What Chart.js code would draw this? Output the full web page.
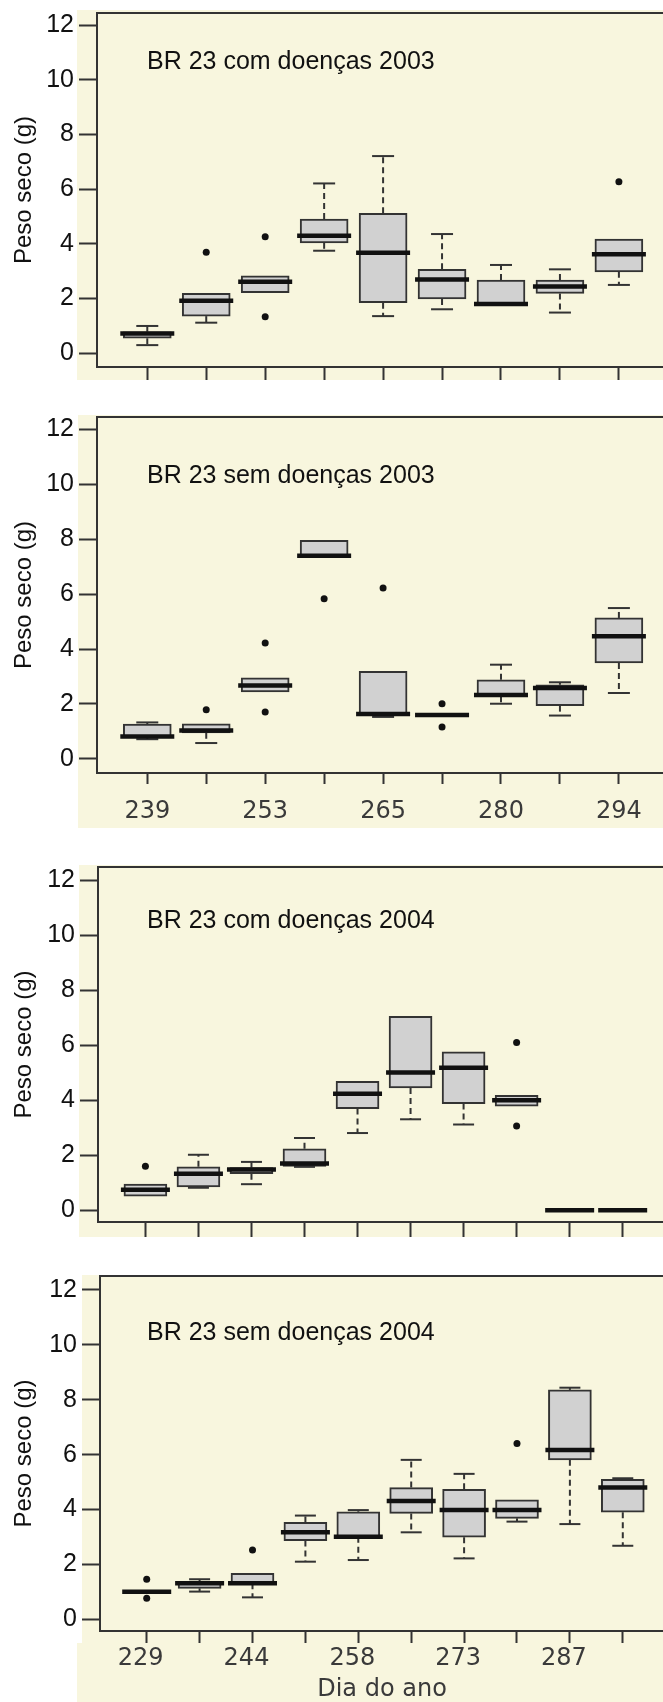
<!DOCTYPE html>
<html>
<head>
<meta charset="utf-8">
<title>Peso seco - BR 23</title>
<script src="https://cdn.jsdelivr.net/npm/chart.js@4.4.0/dist/chart.umd.min.js"></script>
<style>
  html, body { margin: 0; padding: 0; width: 663px; height: 1702px; overflow: hidden; background: #fff; }
  canvas { position: absolute; left: 0; }
</style>
</head>
<body>
<canvas id="p1" width="680" height="424" style="top:-27px"></canvas>
<canvas id="p2" width="680" height="456" style="top:377px"></canvas>
<canvas id="p3" width="680" height="425" style="top:827px"></canvas>
<canvas id="p4" width="680" height="466" style="top:1236px"></canvas>
<script>
// tick labels
const yTicks = [0, 2, 4, 6, 8, 10, 12];
const days2003 = ['239', '', '253', '', '265', '', '280', '', '294'];
const days2004 = ['229', '', '244', '', '258', '', '273', '', '287', ''];

// BR 23 com doenças 2003
const com03Lo  = [0.30, 1.12, 2.22, 3.75, 1.36, 1.61, 1.80, 1.49, 2.50];
const com03Q1  = [0.55, 1.36, 2.22, 4.04, 1.85, 1.99, 1.80, 2.19, 2.98];
const com03Med = [0.72, 1.92, 2.62, 4.30, 3.68, 2.70, 1.80, 2.44, 3.62];
const com03Q3  = [0.79, 2.19, 2.83, 4.91, 5.12, 3.07, 2.68, 2.68, 4.18];
const com03Hi  = [1.00, 2.19, 2.83, 6.21, 7.21, 4.36, 3.23, 3.07, 4.18];
const com03Out = [[], [3.69], [4.26, 1.34], [], [], [], [], [], [6.27]];

// BR 23 sem doenças 2003
const sem03Lo  = [0.72, 0.58, 2.44, 7.39, 1.53, 1.55, 2.01, 1.58, 2.40];
const sem03Q1  = [0.80, 0.95, 2.44, 7.39, 1.61, 1.55, 2.28, 1.94, 3.49];
const sem03Med = [0.82, 1.04, 2.67, 7.39, 1.64, 1.60, 2.33, 2.58, 4.46];
const sem03Q3  = [1.27, 1.28, 2.95, 7.95, 3.19, 1.65, 2.88, 2.70, 5.13];
const sem03Hi  = [1.33, 1.28, 2.95, 7.95, 3.19, 1.65, 3.43, 2.79, 5.49];
const sem03Out = [[], [1.79], [4.22, 1.71], [5.83], [6.22], [2.01, 1.16], [], [], []];

// BR 23 com doenças 2004
const com04Lo  = [0.51, 0.82, 0.95, 1.58, 2.81, 3.31, 3.12, 3.79, 0, 0];
const com04Q1  = [0.51, 0.85, 1.33, 1.60, 3.70, 4.45, 3.88, 3.79, 0, 0];
const com04Med = [0.75, 1.33, 1.48, 1.70, 4.24, 5.01, 5.18, 4.00, 0, 0];
const com04Q3  = [0.95, 1.58, 1.55, 2.24, 4.69, 7.05, 5.76, 4.18, 0, 0];
const com04Hi  = [0.95, 2.02, 1.76, 2.63, 4.69, 7.05, 5.76, 4.18, 0, 0];
const com04Out = [[1.60], [], [], [], [], [], [], [6.10, 3.07], [], []];

// BR 23 sem doenças 2004
const sem04Lo  = [0.98, 1.01, 0.80, 2.10, 2.16, 3.17, 2.22, 3.56, 3.47, 2.68];
const sem04Q1  = [0.98, 1.13, 1.31, 2.87, 3.01, 3.86, 2.99, 3.68, 5.81, 3.90];
const sem04Med = [1.00, 1.31, 1.31, 3.17, 3.01, 4.31, 3.98, 3.98, 6.17, 4.80];
const sem04Q3  = [1.02, 1.37, 1.68, 3.53, 3.92, 4.80, 4.74, 4.35, 8.36, 5.10];
const sem04Hi  = [1.02, 1.46, 1.68, 3.78, 3.98, 5.81, 5.30, 4.35, 8.44, 5.14];
const sem04Out = [[1.46, 0.77], [], [2.53], [], [], [], [], [6.41], [], []];

const PANEL_BG = '#f8f6de';
const AXIS = '#333333';
const BOX_FILL = '#d1d1d1';
const SANS = "'Liberation Sans', Arial, sans-serif";
const W = 680;

// whiskers, caps, medians, frame and panel title
const boxParts = {
  id: 'boxParts',
  beforeDraw(chart, args, o) {
    const ctx = chart.ctx;
    ctx.save();
    ctx.fillStyle = PANEL_BG;
    o.bg.forEach(r => ctx.fillRect(r[0], r[1], r[2], r[3]));
    ctx.restore();
  },
  beforeDatasetsDraw(chart, args, o) {
    const { ctx, chartArea: a } = chart;
    ctx.save();
    ctx.strokeStyle = AXIS;
    ctx.lineWidth = 2;
    ctx.strokeRect(a.left, a.top, a.right - a.left, a.bottom - a.top);
    ctx.fillStyle = '#111';
    ctx.font = '25px ' + SANS;
    ctx.textBaseline = 'alphabetic';
    ctx.fillText(o.title, 147, o.titleY);
    ctx.restore();
  },
  afterDatasetsDraw(chart, args, o) {
    const { ctx, scales: { x, y } } = chart;
    const s = o.stats;
    ctx.save();
    s.med.forEach((m, i) => {
      const px = x.getPixelForValue(i + 1);
      ctx.strokeStyle = AXIS;
      ctx.lineWidth = 2;
      [[s.q3[i], s.hi[i]], [s.q1[i], s.lo[i]]].forEach(([from, to]) => {
        if (to === from) return;
        const y0 = y.getPixelForValue(from);
        const y1 = y.getPixelForValue(to);
        ctx.setLineDash([6, 4]);
        ctx.beginPath();
        ctx.moveTo(px, y0);
        ctx.lineTo(px, y1);
        ctx.stroke();
        ctx.setLineDash([]);
        ctx.beginPath();
        ctx.moveTo(px - o.capW / 2, y1);
        ctx.lineTo(px + o.capW / 2, y1);
        ctx.stroke();
      });
      const ym = y.getPixelForValue(m);
      ctx.strokeStyle = '#111';
      ctx.lineWidth = 4.5;
      ctx.beginPath();
      ctx.moveTo(px - o.boxW / 2 - 3, ym);
      ctx.lineTo(px + o.boxW / 2 + 3, ym);
      ctx.stroke();
    });
    ctx.restore();
  }
};

function makePanel(p) {
  const s = p.stats;
  const boxes = s.q1.map((v, i) => ({ x: i + 1, y: [v, s.q3[i]] }));
  const outliers = [];
  s.out.forEach((list, i) => list.forEach(v => outliers.push({ x: i + 1, y: v })));

  return new Chart(document.getElementById(p.id), {
    type: 'scatter',
    data: {
      datasets: [
        {
          type: 'bar',
          data: boxes,
          backgroundColor: BOX_FILL,
          borderColor: AXIS,
          borderWidth: 2,
          borderSkipped: false,
          barThickness: p.boxW
        },
        {
          type: 'scatter',
          data: outliers,
          pointRadius: 3.5,
          pointBackgroundColor: '#111',
          pointBorderWidth: 0
        }
      ]
    },
    plugins: [boxParts],
    options: {
      responsive: false,
      animation: false,
      events: [],
      layout: { padding: { top: 40, right: W - p.right, left: 0, bottom: 0 } },
      plugins: {
        legend: { display: false },
        tooltip: { enabled: false },
        boxParts: { stats: s, bg: p.bg, title: p.title, titleY: p.titleY, boxW: p.boxW, capW: p.capW }
      },
      scales: {
        x: {
          type: 'linear',
          offset: false,
          min: p.xMin,
          max: p.xMax,
          afterBuildTicks: ax => { ax.ticks = s.med.map((_, i) => ({ value: i + 1 })); },
          afterFit: ax => { ax.height = p.xAxisH; },
          grid: { offset: false, drawOnChartArea: false, drawTicks: true, tickLength: p.tickLen, tickWidth: 2, tickColor: AXIS, color: AXIS },
          border: { display: true, color: AXIS, width: 2 },
          ticks: {
            display: !!p.labels,
            autoSkip: false,
            maxRotation: 0,
            minRotation: 0,
            padding: p.labelPad || 0,
            labelOffset: p.labelOffset || 0,
            color: '#3a3a3a',
            font: { family: "'DejaVu Sans', sans-serif", size: 24 },
            callback: (v, i) => (p.labels ? p.labels[i] : '')
          },
          title: {
            display: !!p.xTitle,
            text: p.xTitle || '',
            color: '#3a3a3a',
            font: { family: "'DejaVu Sans', sans-serif", size: 24, lineHeight: 1 },
            padding: { top: 0, bottom: 0 }
          }
        },
        y: {
          type: 'linear',
          min: p.yMin,
          max: p.yMax,
          afterBuildTicks: ax => { ax.ticks = yTicks.map(v => ({ value: v })); },
          afterFit: ax => { ax.width = p.left; },
          grid: { drawOnChartArea: false, drawTicks: true, tickLength: 18, tickWidth: 2, tickColor: AXIS, color: AXIS },
          border: { display: true, color: AXIS, width: 2 },
          ticks: { padding: 5, color: '#111', font: { family: SANS, size: 25 } },
          title: {
            display: true,
            text: 'Peso seco (g)',
            color: '#111',
            font: { family: SANS, size: 24 },
            padding: { top: 10, bottom: 0 }
          }
        }
      }
    }
  });
}

makePanel({
  id: 'p1', title: 'BR 23 com doenças 2003', titleY: 96,
  stats: { lo: com03Lo, q1: com03Q1, med: com03Med, q3: com03Q3, hi: com03Hi, out: com03Out },
  left: 97, right: 666, xMin: 0.147, xMax: 9.799, yMin: -0.50, yMax: 12.44,
  xAxisH: 30, tickLen: 13, boxW: 48, capW: 22,
  bg: [[77, 37, W, 370]]
});

makePanel({
  id: 'p2', title: 'BR 23 sem doenças 2003', titleY: 106,
  stats: { lo: sem03Lo, q1: sem03Q1, med: sem03Med, q3: sem03Q3, hi: sem03Hi, out: sem03Out },
  left: 97, right: 666, xMin: 0.147, xMax: 9.799, yMin: -0.51, yMax: 12.44,
  xAxisH: 60, tickLen: 11, labels: days2003, labelPad: 13, boxW: 48, capW: 22,
  bg: [[78, 38, W, 413]]
});

makePanel({
  id: 'p3', title: 'BR 23 com doenças 2004', titleY: 101,
  stats: { lo: com04Lo, q1: com04Q1, med: com04Med, q3: com04Q3, hi: com04Hi, out: com04Out },
  left: 98, right: 666, xMin: 0.106, xMax: 10.817, yMin: -0.425, yMax: 12.484,
  xAxisH: 30, tickLen: 15, boxW: 43, capW: 21,
  bg: [[79, 38, W, 372]]
});

makePanel({
  id: 'p4', title: 'BR 23 sem doenças 2004', titleY: 104,
  stats: { lo: sem04Lo, q1: sem04Q1, med: sem04Med, q3: sem04Q3, hi: sem04Hi, out: sem04Out },
  left: 100, right: 664, xMin: 0.117, xMax: 10.779, yMin: -0.426, yMax: 12.51,
  xAxisH: 71, tickLen: 12, labels: days2004, labelPad: 1, labelOffset: -6, boxW: 43, capW: 21,
  xTitle: 'Dia do ano',
  bg: [[82, 39, W, 368], [77, 407, W, 59]]
});
</script>
</body>
</html>
